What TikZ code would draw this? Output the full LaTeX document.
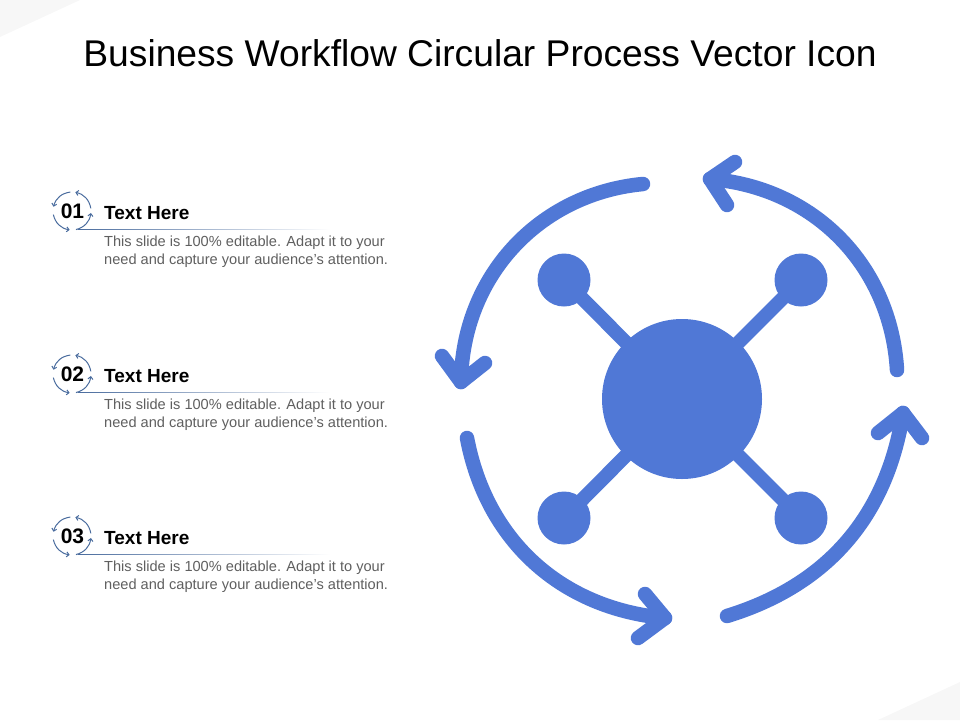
\documentclass[tikz,border=0pt]{standalone}
\usepackage{fontspec}
\setmainfont{Liberation Sans}
\usetikzlibrary{arrows.meta}
\definecolor{iconblue}{HTML}{5078D6}
\definecolor{ringblue}{HTML}{4A6C9E}
\definecolor{blurbgray}{HTML}{5F5F5F}
\tikzset{
	hub/.style={circle,fill=iconblue,inner sep=0pt,minimum size=160pt},
	sat/.style={circle,fill=iconblue,inner sep=0pt,minimum size=53pt},
	link/.style={draw=iconblue,line width=14pt},
	flow/.style={draw=iconblue,line width=14.5pt,line cap=round,line join=round},
	ring/.style={draw=ringblue,line width=1pt,-{Straight Barb[length=2.5pt,width=5pt]}},
	heading/.style={anchor=west,inner sep=0pt,font=\fontsize{19}{22}\selectfont\bfseries,text=black},
	blurb/.style={anchor=west,inner sep=0pt,align=left,font=\fontsize{14.6}{18}\selectfont,text=blurbgray}
}
\begin{document}
\begin{tikzpicture}[x=1pt,y=-1pt]
			\useasboundingbox (0,0) rectangle (960,720);
			\fill[black!3] (0,0) -- (80,0) -- (0,37) -- cycle;
			\fill[black!3] (960,682) -- (960,720) -- (878,720) -- cycle;
			\node[inner sep=0pt,font=\fontsize{37.2}{44}\selectfont,text=black] (title) at (480,53) {Business Workflow Circular Process Vector Icon};
			\node[hub] (center) at (682,399) {};
			\node[sat] (satnw) at (564,280) {};
			\node[sat] (satne) at (801,280) {};
			\node[sat] (satsw) at (564,518) {};
			\node[sat] (satse) at (801,518) {};
			\foreach \sat in {satnw,satne,satsw,satse}
				\draw[link] (center.center) -- (\sat.center);
			\coordinate (nestart) at (897,370);
			\coordinate (netip) at (710,179);
			\coordinate (nwstart) at (643,184);
			\coordinate (nwtip) at (461,382);
			\coordinate (swstart) at (467,438);
			\coordinate (swtip) at (665,618);
			\coordinate (sestart) at (727,616);
			\coordinate (setip) at (903,413);
			\draw[flow] (nestart) to[bend right=41] (netip);
			\draw[flow] (735,162) -- (netip) -- (727,205);
			\draw[flow] (nwstart) to[bend right=42] (nwtip);
			\draw[flow] (442,356) -- (nwtip) -- (485,363);
			\draw[flow] (swstart) to[bend right=37] (swtip);
			\draw[flow] (645,594) -- (swtip) -- (638,638);
			\draw[flow] (sestart) to[bend right=32] (setip);
			\draw[flow] (878,433) -- (setip) -- (922,438);
			\foreach \cy/\num in {211/01,374/02,536/03} {
				\node[inner sep=0pt,font=\fontsize{21}{24}\selectfont\bfseries,text=black] (num\num) at (72.5,\cy) {\num};
				\foreach \tipangle in {-80,6,97,193}
					\draw[ring,shift={(72,\cy)}] (\tipangle+72:19) to[bend right=34] (\tipangle:19);
				\node[heading] (head\num) at (104,\cy+2.5) {Text Here};
				\fill[left color=ringblue,right color=white] (78,\cy+18) rectangle (330,\cy+18.9);
				\node[blurb] (text\num) at (104,\cy+39.5+1) {This slide is 100\% editable. Adapt it to your\\need and capture your audience’s attention.};
			}
		\end{tikzpicture}
\end{document}
